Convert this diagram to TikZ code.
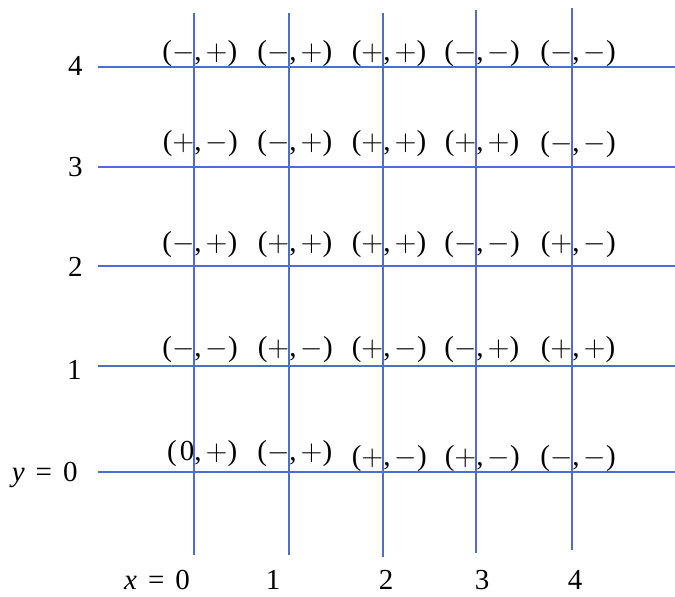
\documentclass[tikz,border=0pt]{standalone}
\usepackage{fontspec}
\setmainfont{Liberation Serif}
\usepackage{tikz}

\definecolor{gridblue}{RGB}{78,110,206}

% sign in math, comma with a small gap
\newcommand{\sg}[1]{{\fontsize{15}{17}\selectfont$#1$}}
\newcommand{\cs}{,\hspace{2pt}}
\newcommand{\eqsp}{\hspace{0.38em}=\hspace{0.38em}}

\tikzset{
  gridline/.style={gridblue,line width=1pt},
  pair/.style={anchor=base west,inner sep=0pt,font=\fontsize{14.5}{17}\selectfont},
  axislabel/.style={inner sep=0pt,font=\fontsize{14.5}{17}\selectfont}
}

\begin{document}
\begin{tikzpicture}[x=0.5pt,y=-0.5pt]
  \useasboundingbox (0,0) rectangle (675,597);

  % vertical lines x = 0..4
  \draw[gridline] (194,13) -- (194,555);
  \draw[gridline] (289,13) -- (289,555);
  \draw[gridline] (383,13) -- (383,557);
  \draw[gridline] (476,10) -- (476,553);
  \draw[gridline] (572,8) -- (572,550);

  % horizontal lines y = 0..4
  \draw[gridline] (98,67) -- (675,67);
  \draw[gridline] (98,167) -- (675,167);
  \draw[gridline] (98,266) -- (675,266);
  \draw[gridline] (98,366) -- (675,366);
  \draw[gridline] (98,472) -- (675,472);

  % row labels
  \node[axislabel,anchor=base east] (ly4) at (83,76) {4};
  \node[axislabel,anchor=base east] (ly3) at (83,177) {3};
  \node[axislabel,anchor=base east] (ly2) at (83,277) {2};
  \node[axislabel,anchor=base east] (ly1) at (82,380) {1};
  \node[axislabel,anchor=base east] (ly0) at (78,482) {\textit{y}\eqsp0};

  % column labels
  \node[axislabel,anchor=base] (lx0) at (157,590) {\textit{x}\eqsp0};
  \node[axislabel,anchor=base] (lx1) at (273,590) {1};
  \node[axislabel,anchor=base] (lx2) at (386,590) {2};
  \node[axislabel,anchor=base] (lx3) at (482,590) {3};
  \node[axislabel,anchor=base] (lx4) at (575,590) {4};

  % sign pairs, row y = 4
  \node[pair] (p04) at (194,61) {\llap{(\sg{-}}\cs\sg{+})};
  \node[pair] (p14) at (289,61) {\llap{(\sg{-}}\cs\sg{+})};
  \node[pair] (p24) at (383,61) {\llap{(\sg{+}}\cs\sg{+})};
  \node[pair] (p34) at (476,61) {\llap{(\sg{-}}\cs\sg{-})};
  \node[pair] (p44) at (572,61) {\llap{(\sg{-}}\cs\sg{-})};

  % row y = 3
  \node[pair] (p03) at (194,151) {\llap{(\sg{+}}\cs\sg{-})};
  \node[pair] (p13) at (289,151) {\llap{(\sg{-}}\cs\sg{+})};
  \node[pair] (p23) at (383,151) {\llap{(\sg{+}}\cs\sg{+})};
  \node[pair] (p33) at (476,151) {\llap{(\sg{+}}\cs\sg{+})};
  \node[pair] (p43) at (572,152) {\llap{(\sg{-}}\cs\sg{-})};

  % row y = 2
  \node[pair] (p02) at (194,252) {\llap{(\sg{-}}\cs\sg{+})};
  \node[pair] (p12) at (289,252) {\llap{(\sg{+}}\cs\sg{+})};
  \node[pair] (p22) at (383,252) {\llap{(\sg{+}}\cs\sg{+})};
  \node[pair] (p32) at (476,252) {\llap{(\sg{-}}\cs\sg{-})};
  \node[pair] (p42) at (572,252) {\llap{(\sg{+}}\cs\sg{-})};

  % row y = 1
  \node[pair] (p01) at (194,357) {\llap{(\sg{-}}\cs\sg{-})};
  \node[pair] (p11) at (289,357) {\llap{(\sg{+}}\cs\sg{-})};
  \node[pair] (p21) at (383,357) {\llap{(\sg{+}}\cs\sg{-})};
  \node[pair] (p31) at (476,357) {\llap{(\sg{-}}\cs\sg{+})};
  \node[pair] (p41) at (572,357) {\llap{(\sg{+}}\cs\sg{+})};

  % row y = 0
  \node[pair] (p00) at (194,461) {\llap{(\hspace{1.5pt}0}\cs\sg{+})};
  \node[pair] (p10) at (289,461) {\llap{(\sg{-}}\cs\sg{+})};
  \node[pair] (p20) at (383,466) {\llap{(\sg{+}}\cs\sg{-})};
  \node[pair] (p30) at (476,466) {\llap{(\sg{+}}\cs\sg{-})};
  \node[pair] (p40) at (572,466) {\llap{(\sg{-}}\cs\sg{-})};

\end{tikzpicture}
\end{document}
